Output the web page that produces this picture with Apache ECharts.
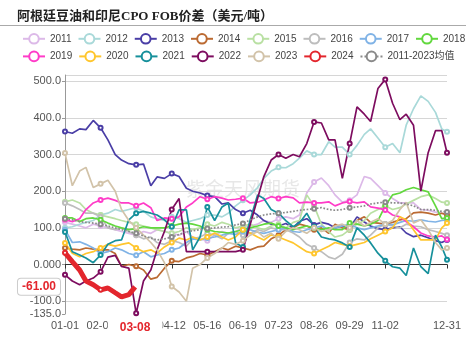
<!DOCTYPE html>
<html>
<head>
<meta charset="utf-8">
<script src="https://cdn.jsdelivr.net/npm/echarts@6/dist/echarts.min.js"></script>
<style>
    html, body { margin: 0; padding: 0; background: #fff; }
    #chart { width: 473px; height: 352px; }
</style>
</head>
<body>
<div id="chart"></div>
<script>
// 类目: 闰年 01-01 ~ 12-31
var dates = [];
(function () {
    var d = new Date(2024, 0, 1);
    while (d.getFullYear() === 2024) {
        var m = d.getMonth() + 1, day = d.getDate();
        dates.push((m < 10 ? '0' : '') + m + '-' + (day < 10 ? '0' : '') + day);
        d.setDate(day + 1);
    }
})();

// 取值日期 (类目序号)
var sampleDays = [0,7,14,20,27,34,41,48,54,61,68,75,82,88,95,102,109,116,122,129,136,143,150,156,163,170,177,184,190,197,204,211,218,224,231,238,245,252,258,265,272,279,286,292,299,306,313,320,326,333,340,347,354,360,365];
var days2024 = [0,7,14,20,27,34,41,48,54,61,67];

var y2011 = [115,110,105,100,110,105,100,95,90,85, 80,90,85,95,90,85,80,90,75,70, 65,80,90,85,90,100,105,110,120,115, 125,130,125,135,195,225,236,215,190,170, 175,190,240,235,215,195,180,168,168,168, 150,148,143,140,135];
var y2012 = [100,103,110,115,120,135,140,150,145,150, 155,145,130,125,120,130,125,115,120,125, 135,135,130,140,160,175,190,210,235,255, 265,264,275,290,310,300,300,335,320,320, 300,325,355,370,345,320,330,305,380,425, 460,445,415,370,362];
var y2013 = [363,358,370,368,393,373,340,300,285,275, 272,274,215,239,235,248,240,208,200,195, 188,185,165,168,150,140,148,135,120,110, 105,112,100,118,125,108,115,110,100,105, 100,130,116,105,98,95,100,103,86,76, 80,73,65,60,67];
var y2014 = [45,42,40,45,42,40,40,30,-5,0, -5,-15,-40,-35,-10,10,8,18,22,30, 26,35,45,40,50,45,40,48,50,70, 80,95,100,110,105,95,100,85,110,100, 95,120,130,115,113,110,115,122,125,141, 143,140,135,140,135];
var y2015 = [171,176,168,150,140,135,130,125,120,115, 110,105,100,95,90,85,90,100,95,100, 110,105,115,110,100,105,110,100,95,105, 110,100,115,120,190,160,110,90,75,80, 95,110,120,140,150,160,150,155,165,175, 185,190,180,170,168];
var y2016 = [168,160,150,140,140,130,100,95,100,90, 80,70,75,60,55,65,60,50,70,75, 85,80,70,85,90,80,85,95,90,100, 95,95,86,75,55,45,35,20,15,28, 60,70,67,80,100,110,105,100,110,105, 103,95,90,85,80];
var y2017 = [95,60,62,55,45,30,35,45,40,30, 25,35,21,26,30,40,45,60,70,67, 72,75,80,85,82,90,95,88,85,90, 95,100,90,88,95,100,105,95,100,105, 110,100,95,100,105,110,108,115,120,118, 122,118,116,120,122];
var y2018 = [127,127,117,125,127,122,113,105,100,95, 98,103,100,100,100,105,110,113,110,105, 95,90,88,86,90,95,100,105,110,113, 105,100,95,100,105,100,95,100,95,95, 113,110,105,110,120,160,190,195,204,210, 204,198,160,125,127];
var y2019 = [122,117,125,150,168,176,181,175,168,168, 160,168,155,120,127,125,130,157,168,185, 178,185,181,176,178,181,168,170,176,185, 180,185,182,168,170,168,168,171,160,168, 172,168,171,157,154,149,135,130,117,103, 86,78,75,78,68];
var y2020 = [59,31,21,30,35,45,55,50,55,59, 45,35,40,31,48,60,72,67,75,67, 75,86,75,67,75,95,86,75,67,81, 75,67,59,48,35,30,40,50,60,55, 50,55,60,70,80,90,100,130,122,95, 67,67,67,100,113];
var y2021 = [89,35,26,18,5,26,55,65,67,122, 140,145,140,135,122,103,149,149,40,75, 157,120,157,168,59,48,122,190,180,150, 140,120,103,113,140,103,75,70,67,59, 48,100,80,59,31,10,-6,-10,-30,45, -6,-25,80,48,13];
var y2022 = [-28,-45,-55,-45,-37,-20,20,25,-5,-10, -133,-45,-15,40,90,150,180,35,35,35, 35,35,35,35,35,40,110,180,240,285, 300,290,300,294,330,389,386,340,340,235, 330,430,410,390,480,505,440,395,410,380, 200,305,365,365,305];
var y2023 = [304,215,255,265,210,220,230,200,150,120, 100,80,60,40,5,-60,-75,-100,-10,0, 18,30,45,60,55,65,80,90,75,85, 70,90,100,95,85,100,90,95,105,110, 100,120,105,115,125,110,120,150,170,113, 122,95,60,40,45];
var y2024 = [32,8,-15,-45,-55,-69,-64,-77,-88,-82,-61];
var yAvg = [125,122,117,115,113,110,105,100,95,90, 85,78,72,67,70,75,82,89,92,95, 98,100,102,103,108,112,122,130,135,138, 140,142,145,148,150,152,155,150,148,150, 155,157,160,165,168,170,168,168,165,160, 150,150,148,145,143];

var names = ['2011','2012','2013','2014','2015','2016','2017','2018','2019','2020','2021','2022','2023','2024','2011-2023均值'];
var values = [y2011,y2012,y2013,y2014,y2015,y2016,y2017,y2018,y2019,y2020,y2021,y2022,y2023,y2024,yAvg];
var colors = ['#dcb9e8','#a9d9d9','#4a3ea6','#bb6a32','#b9e0a3','#bdbdbd','#80b3e6','#62d83e','#ff3cc8','#ffc62e','#16909b','#7d0c5f','#d2c3a9','#e3262d','#8a8a8a'];

var lastIdx = days2024[days2024.length - 1];
var lastVal = y2024[y2024.length - 1];

function showLabel(idx) {
    return (idx % 34 === 0 && idx <= 306) || idx === dates.length - 1;
}

var chart = echarts.init(document.getElementById('chart'));
var font = "'Liberation Sans','Noto Sans CJK SC',sans-serif";

var option = {
    animation: false,
    color: colors,
    textStyle: {fontFamily: font},
    title: {
        text: '阿根廷豆油和印尼CPO FOB价差（美元/吨）',
        left: 12,
        top: 5,
        textStyle: {fontSize: 13, fontWeight: 'bold', color: '#222', fontFamily: "'Liberation Serif','Noto Sans CJK SC',serif"}
    },
    legend: {
        data: names,
        left: 17,
        top: 28,
        right: 8,
        itemWidth: 22,
        itemHeight: 12,
        itemGap: 6,
        textStyle: {fontSize: 10, color: '#444', fontFamily: font}
    },
    grid: {left: 65, right: 26, top: 75, bottom: 38},
    graphic: [
        {type: 'line', shape: {x1: 0, y1: 25.5, x2: 466, y2: 25.5}, style: {stroke: '#aaa', lineWidth: 1}, silent: true},
        {type: 'text', left: 186, top: 179, z: 0, silent: true,
            style: {text: '紫金天风期货', fill: 'rgba(160,160,160,0.25)', font: '19px "Noto Sans CJK SC"'}}
    ],
    xAxis: [
        {
            type: 'category',
            data: dates,
            boundaryGap: false,
            position: 'bottom',
            axisLine: {show: false, onZero: false},
            axisTick: {show: false},
            splitLine: {show: false},
            axisLabel: {interval: showLabel, fontSize: 11, color: '#555', margin: 6},
            axisPointer: {
                show: true,
                status: 'show',
                value: lastIdx,
                triggerTooltip: false,
                lineStyle: {opacity: 0},
                label: {show: true, backgroundColor: '#fff', color: '#e3262d', fontWeight: 'bold', fontSize: 12, padding: [3, 12], margin: 5, shadowBlur: 0}
            }
        },
        {
            type: 'category',
            data: dates,
            boundaryGap: false,
            position: 'bottom',
            axisLine: {show: true, onZero: true, lineStyle: {color: '#333'}},
            axisTick: {show: true, interval: showLabel, length: 4, lineStyle: {color: '#333'}},
            axisLabel: {show: false},
            splitLine: {show: false}
        }
    ],
    yAxis: {
        type: 'value',
        min: -135,
        max: 517,
        axisLine: {show: true, lineStyle: {color: '#999'}},
        axisTick: {show: true, length: 3, lineStyle: {color: '#999'}},
        axisLabel: {
            fontSize: 11, color: '#555', margin: 4,
            showMinLabel: true, showMaxLabel: false,
            formatter: function (v) { return v.toPrecision(4); }
        },
        splitLine: {show: true, showMinLine: false, lineStyle: {color: '#d6d6d6'}},
        axisPointer: {
            show: true,
            status: 'show',
            value: lastVal,
            triggerTooltip: false,
            lineStyle: {opacity: 0},
            label: {
                show: true, backgroundColor: '#fff', color: '#e3262d', fontWeight: 'bold', fontSize: 12,
                padding: [2, 4], margin: 5, borderColor: '#ccc', borderWidth: 1, shadowBlur: 0,
                formatter: function (p) { return Number(p.value).toFixed(2); }
            }
        }
    },
    series: names.map(function (n, i) {
        var days = n === '2024' ? days2024 : sampleDays;
        return {
            name: n,
            type: 'line',
            xAxisIndex: 0,
            // 只在显示标签的日期上画空心圆
            data: days.map(function (d, j) {
                return {value: [d, values[i][j]], symbol: showLabel(d) ? 'emptyCircle' : 'none'};
            }),
            symbol: 'emptyCircle',
            symbolSize: 4,
            lineStyle: {width: n === '2024' ? 5 : 1.7, type: i === 14 ? 'dotted' : 'solid'},
            z: n === '2024' ? 5 : 2,
            emphasis: {disabled: true}
        };
    })
};
chart.setOption(option);
</script>
</body>
</html>
